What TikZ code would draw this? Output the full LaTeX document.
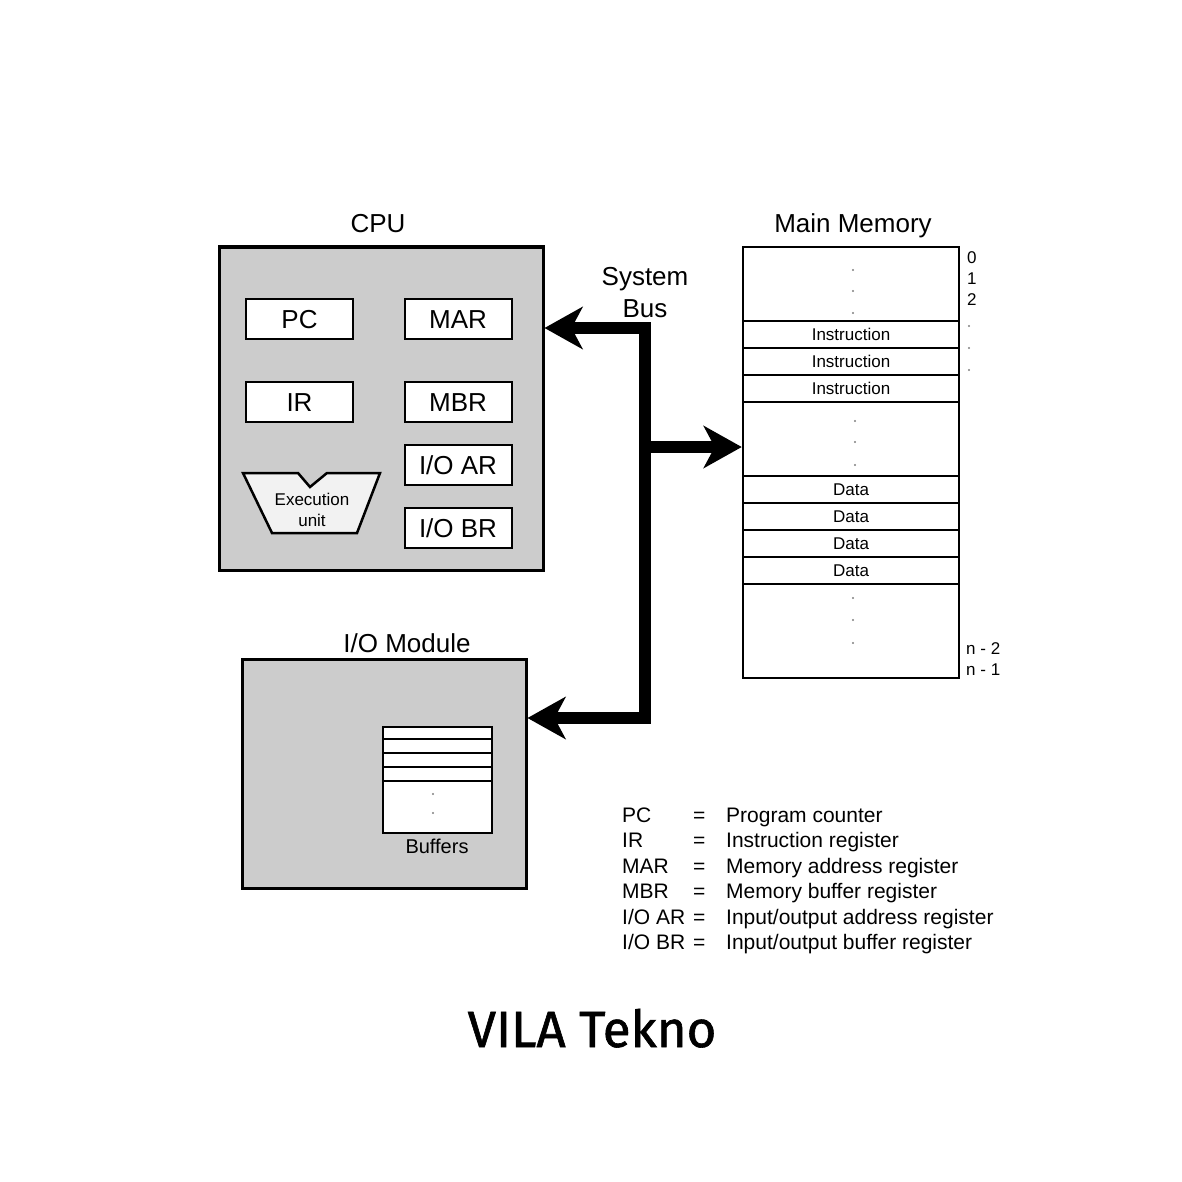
\documentclass[tikz,border=0pt]{standalone}
\usepackage{fontspec}
\setmainfont{Liberation Sans}
\newfontfamily\brandfont[FakeBold=1.2]{Fira Sans}
\usepackage[]{tikz}
\usetikzlibrary{positioning,arrows.meta}
\definecolor{boxgray}{RGB}{204,204,204}
\definecolor{unitgray}{RGB}{242,242,242}
\newcommand{\fsz}[1]{\fontsize{#1}{#1}\selectfont}
\tikzset{block/.style={draw,line width=3pt,fill=boxgray,inner sep=0pt},
  reg/.style={draw,line width=2pt,fill=white,minimum width=107pt,minimum height=40pt,inner sep=0pt,font=\fsz{26},text height=18.6pt,text depth=0pt},
  cell/.style={draw,line width=2.2pt,fill=white,minimum width=216pt,minimum height=27pt,inner sep=0pt,font=\fsz{17},text height=12.2pt,text depth=0pt},
  boxlabel/.style={font=\fsz{26},anchor=base,inner sep=0pt},
  small/.style={font=\fsz{17},anchor=base west,inner sep=0pt},
  legtext/.style={font=\fsz{21},anchor=base west,inner sep=0pt},
  bus/.style={line width=12pt,line join=miter,-{Stealth[length=38pt,width=42pt,inset=11pt]}},
  dot/.style={fill=gray,draw=none}}
\begin{document}
\begin{tikzpicture}[x=1pt,y=-1pt]
\useasboundingbox (0,0) rectangle (1182,1182);
% CPU
\node[block,minimum width=324pt,minimum height=323pt] (cpu) at (381,408.5) {};
\node[boxlabel] (cpulabel) at (378,233) {CPU};
\node[reg] (pc) at (299.5,319) {PC};
\node[reg] (mar) at (458,319) {MAR};
\node[reg] (ir) at (299.5,402) {IR};
\node[reg] (mbr) at (458,402) {MBR};
\node[reg] (ioar) at (458,465) {I/O AR};
\node[reg] (iobr) at (458,528) {I/O BR};
\draw[line width=2.5pt,fill=unitgray,line join=miter] (243,473) -- (298,473) -- (310,487) -- (327,473) -- (380,473) -- (357,533) -- (272,533) -- cycle;
\node[font=\fsz{17},align=center,inner sep=0pt] (exec) at (312,510) {Execution\\[4pt]unit};
% main memory
\node[draw,line width=2.5pt,fill=white,minimum width=216pt,minimum height=431pt,inner sep=0pt] (mem) at (851,462.5) {};
\node[boxlabel] (memlabel) at (853,233) {Main Memory};
\foreach \i/\y in {1/334.5,2/361.5,3/388.5}
  \node[cell] (inst\i) at (851,\y) {Instruction};
\foreach \i/\y in {1/489.5,2/516.5,3/543.5,4/570.5}
  \node[cell] (data\i) at (851,\y) {Data};
\foreach \y in {270,291,313} \fill[dot] (853,\y) circle (1.2pt);
\foreach \y in {421,442,465} \fill[dot] (855,\y) circle (1.2pt);
\foreach \y in {598,620,643} \fill[dot] (853,\y) circle (1.2pt);
\node[small] (a0) at (967,263) {0};
\node[small] (a1) at (967,284) {1};
\node[small] (a2) at (967,305) {2};
\foreach \y in {326,348,370} \fill[dot] (969,\y) circle (1.2pt);
\node[small] (an2) at (966,654) {n - 2};
\node[small] (an1) at (966,675) {n - 1};
% I/O module
\node[block,minimum width=284pt,minimum height=229pt] (io) at (384,773.5) {};
\node[boxlabel] (iolabel) at (407,652) {I/O Module};
\node[draw,line width=1.8pt,fill=white,minimum width=109pt,minimum height=106pt,inner sep=0pt] (buf) at (437.5,780) {};
\foreach \y in {739,753,767,781} \draw[line width=1.8pt] (buf.west |- 0,\y) -- (buf.east |- 0,\y);
\foreach \y in {794,813} \fill[dot] (433,\y) circle (1.2pt);
\node[font=\fsz{20},anchor=base,inner sep=0pt] (buflabel) at (437,853) {Buffers};
% system bus
\node[boxlabel] (sys) at (645,285) {System};
\node[boxlabel] (bus) at (645,317) {Bus};
\coordinate (bustop) at (645,328);
\coordinate (busmid) at (645,447);
\coordinate (busbot) at (645,718);
\draw[bus] (busbot) -- (bustop) -- (cpu.east |- bustop);
\draw[bus] (bustop) -- (busbot) -- (io.east |- busbot);
\draw[bus] (busmid) -- (mem.west |- busmid);
% legend
\foreach \k/\v [count=\n from 0] in {{PC}/{Program counter},{IR}/{Instruction register},{MAR}/{Memory address register},{MBR}/{Memory buffer register},{I/O AR}/{Input/output address register},{I/O BR}/{Input/output buffer register}}{
  \node[legtext] (key\n) at (622,822+25.5*\n) {\k};
  \node[legtext] (eq\n) at (693,822+25.5*\n) {=};
  \node[legtext] (val\n) at (726,822+25.5*\n) {\v};
}
\node[font=\brandfont\fsz{51},anchor=base,inner sep=0pt] (brand) at (592,1047) {VILA Tekno};
\end{tikzpicture}
\end{document}
